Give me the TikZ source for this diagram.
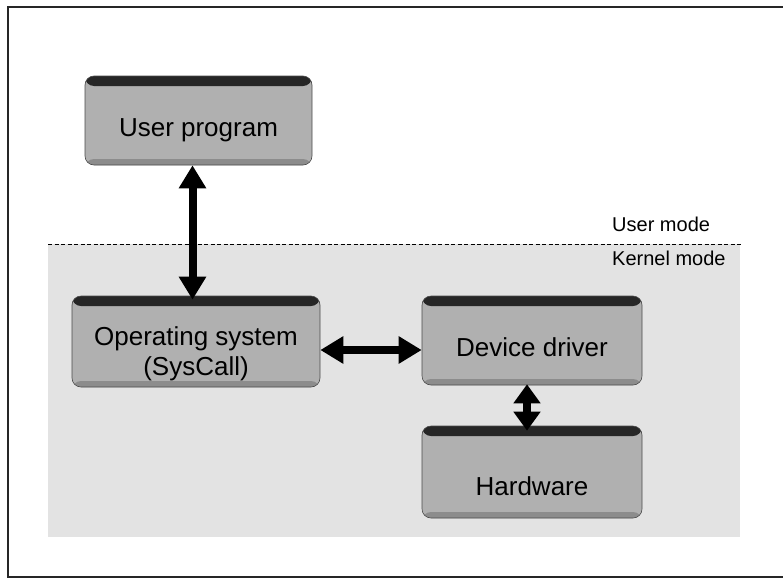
\documentclass[tikz,border=0pt]{standalone}
\usepackage{fontspec}
\setmainfont{Liberation Sans}
\usetikzlibrary{arrows.meta}

\tikzset{
  x=1pt, y=1pt,
  % grey block with a dark band along its top edge
  block/.style={
    rounded corners=9pt, fill=gray!62, draw=black!70, line width=0.6pt,
    inner sep=0pt,
    path picture={
      \fill[black!85] (path picture bounding box.north west)
        rectangle ([yshift=-10pt]path picture bounding box.north east);
      \fill[black!45] ([yshift=6pt]path picture bounding box.south west)
        rectangle (path picture bounding box.south east);
    }
  },
  lbl/.style={font=\fontsize{26}{30}\selectfont, align=center, inner sep=0pt},
  modelbl/.style={font=\fontsize{20}{24}\selectfont, anchor=west, inner sep=0pt},
  biarrow/.style={line width=8pt,
    {Triangle[length=23pt,width=26pt]}-{Triangle[length=23pt,width=26pt]}},
  shortarrow/.style={line width=8pt,
    {Triangle[length=19pt,width=26pt]}-{Triangle[length=19pt,width=26pt]}},
}

\begin{document}
\begin{tikzpicture}
  \useasboundingbox (0,0) rectangle (783,-581);
  \fill[white] (0,0) rectangle (783,-581);

  % outer frame
  \draw[black!85, line width=1.1pt] (8,-7) rectangle (790,-577);

  % kernel-mode area and the mode boundary
  \fill[gray!22] (48,-244) rectangle (740,-537);
  \draw[dashed, dash pattern=on 4pt off 2.5pt, line width=1pt] (48,-244) -- (742,-244);
  \node[modelbl] (umode) at (612,-224) {User mode};
  \node[modelbl] (kmode) at (612,-258) {Kernel mode};

  % blocks
  \node[block, minimum width=227pt, minimum height=89pt] (up) at (198.5,-120.5) {};
  \node[block, minimum width=248pt, minimum height=91pt] (os) at (196,-341.5) {};
  \node[block, minimum width=220pt, minimum height=89pt] (dd) at (532,-340.5) {};
  \node[block, minimum width=220pt, minimum height=92pt] (hw) at (532,-472) {};

  \node[lbl] (upt) at ([yshift=-10pt]up.center) {User program};
  \node[lbl] (ost) at ([yshift=-12pt]os.center) {Operating system\\(SysCall)};
  \node[lbl] (ddt) at ([yshift=-7pt]dd.center) {Device driver};
  \node[lbl] (hwt) at ([yshift=-14pt]hw.center) {Hardware};

  % connectors
  \draw[biarrow] ([xshift=-6pt]up.south) -- ([xshift=-6pt,yshift=-4pt]up.south |- os.north);
  \coordinate (hy) at (0,-350);
  \draw[biarrow] (os.east |- hy) -- (dd.west |- hy);
  \draw[shortarrow] ([xshift=-5pt,yshift=1pt]dd.south) -- ([xshift=-5pt,yshift=-5pt]dd.south |- hw.north);
\end{tikzpicture}
\end{document}
